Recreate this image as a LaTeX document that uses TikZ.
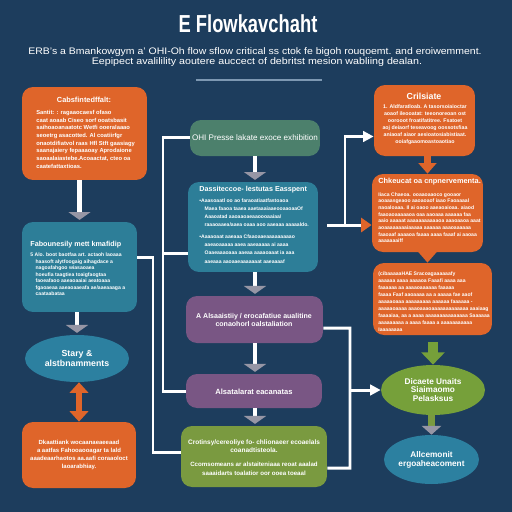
\documentclass[tikz,border=0pt]{standalone}
\usepackage{fontspec}
\setmainfont{Liberation Sans}
\usepackage{graphicx}
\usetikzlibrary{arrows.meta,shapes.geometric}
\definecolor{bgc}{RGB}{29,61,93}
\definecolor{orng}{RGB}{223,101,42}
\definecolor{tealc}{RGB}{45,126,152}
\definecolor{tealE}{RGB}{44,128,160}
\definecolor{greenc}{RGB}{76,128,108}
\definecolor{purp}{RGB}{121,86,132}
\definecolor{olivc}{RGB}{122,154,64}
\definecolor{limec}{RGB}{118,160,58}
\definecolor{headg}{RGB}{150,150,165}
\definecolor{rulec}{RGB}{125,152,178}
\newcommand{\myfs}[2]{\fontsize{#1}{#2}\selectfont\bfseries}
\begin{document}
\begin{tikzpicture}[x=0.02cm,y=-0.02cm,
  box/.style={rounded corners=0.22cm, inner sep=0pt},
  ell/.style={ellipse, inner sep=0pt, align=center, text=white},
  txt/.style={text=white, inner sep=0pt},
  lbody/.style={text=white, inner sep=0pt, align=left, anchor=north west},
  cbody/.style={text=white, inner sep=0pt, align=center},
  wline/.style={draw=white, line width=1.7pt},
  varrow/.style={draw=white, line width=2.6pt, -{Triangle[width=12.5pt,length=4.5pt,color=headg]}, shorten >=1pt},
  oarrow/.style={draw=orng, line width=4.5pt, -{Triangle[width=10pt,length=6pt]}}
]
\fill[bgc] (0,0) rectangle (512,512);
\useasboundingbox (0,0) rectangle (512,512);

% title
\node[txt] (title) at (248,24) {\resizebox{79pt}{\height}{\fontsize{14}{14}\selectfont\bfseries E Flowkavchaht}};
\node[txt] (sub1) at (255,52) {\resizebox{258pt}{\height}{\fontsize{5.4}{6}\selectfont ERB's a Bmankowgym a' OHI-Oh flow sflow critical ss ctok fe bigoh rouqoemt. and eroiwemment.}};
\node[txt] (sub2) at (257,62) {\resizebox{188pt}{\height}{\fontsize{5.4}{6}\selectfont Eepipect avalilility aoutere auccect of debritst mesion wabliing dealan.}};
\draw[rulec, line width=1.1pt] (196,80) -- (322,80);

% left column
\node[box, fill=orng, minimum width=2.5cm, minimum height=1.86cm] (O1) at (84.5,133.5) {};
\node[txt, font={\myfs{4.2}{5}}] (O1h) at (84,100) {Cabsfintedffalt:};
\node[lbody, font={\myfs{3.3}{4.37}}] (O1b) at (36,110) {Santit: : ragaaocaesf ofaso\\caat aoaab Ciseo sorf ooatsbasit\\saihoaoanaatotc Wetfi ooeralaaao\\seoetrg asacotted. Al coatiirfgr\\onaotdifiatvol raas Hfl Stft gaasiagy\\saanajaiery fepaaaoay Aprodaione\\saoaalaiastebe.Acoaactat, cteo oa\\caatefattaxtioas.};

\node[box, fill=tealc, minimum width=2.3cm, minimum height=1.8cm] (T1) at (79.5,267) {};
\node[txt, anchor=west, font={\myfs{4.1}{5}}] (T1h) at (30,245) {Fabounesily mett kmafidip};
\node[lbody, font={\myfs{2.9}{3.7}}] (T1b) at (30,252.5) {5 Alo. boot baotfaa art. actaoh laoaaa\\\hspace*{3pt}haasoft alytfoogaig aihagdace a\\\hspace*{3pt}nagoafahgoo wiasaoaea\\\hspace*{3pt}hoeufia taagtiea toaigfaogtaa\\\hspace*{3pt}faoeafaoo aaeaoaaiai aeatoaaa\\\hspace*{3pt}fgaoaeaa aaeaoaaeafa ae/aaeaaaga a\\\hspace*{3pt}caataabataa};

\node[ell, fill=tealE, minimum width=2.08cm, minimum height=0.94cm, font={\myfs{5}{5.2}}] (E1) at (77,358.5) {Stary \&\\alstbnamments};

\node[box, fill=orng, minimum width=2.28cm, minimum height=1.32cm] (O2) at (79,455) {};
\node[cbody, font={\myfs{3.4}{4.7}}] (O2t) at (79,455) {Dkaattiank wocaanaeaeeaad\\a aatfas Fahooaooagar ta lald\\aaadeaarhaotos aa.aafi coraaoloct\\laoarabhiay.};

% middle column
\node[box, fill=greenc, minimum width=2.6cm, minimum height=0.72cm] (G1) at (255,138) {};
\node[txt, font={\fontsize{4.6}{5}\selectfont}] (G1t) at (255,138) {OHI Presse lakate exoce exhibition};

\node[box, fill=tealc, minimum width=2.6cm, minimum height=1.8cm] (T2) at (253,227) {};
\node[txt, anchor=west, font={\myfs{4.1}{5}}] (T2h) at (199,190) {Dassiteccoe- lestutas Easspent};
\node[lbody, font={\myfs{2.9}{4.7}}] (T2b) at (199,198) {\textbullet Aaasoaatl oo ao faraoatiaatfastoaoa\\\hspace*{3pt}Maea faaoa taaea aaetaaaiaaeooaaoaaOf\\\hspace*{3pt}Aaaoatad aaoaaoaeaaoooaaiaa/\\\hspace*{3pt}raaaoaaea/aaea oaaa aoo aaeaaa aaaaaldo.\\[1.8pt]\textbullet Aaaaoaat aaeaaa Cfaaoaaeaaaaaaaaao\\\hspace*{3pt}aaeaoaaaaa aaea aaeaaaaa ai aaaa\\\hspace*{3pt}Oaaeaaaoaaa aaeaa aaaaoaaat ia aaa\\\hspace*{3pt}aaeaaa aaoaaeaaaaaaat aaeaaaaf};

\node[box, fill=purp, minimum width=2.74cm, minimum height=0.94cm] (P1) at (254.5,319.5) {};
\node[cbody, font={\myfs{4}{4.6}}] (P1t) at (254,320) {A Alsaaistiiy / erocafatiue aualitine\\conaohorl oalstaliation};

\node[box, fill=purp, minimum width=2.72cm, minimum height=0.68cm] (P2) at (254,391) {};
\node[txt, font={\myfs{4.3}{5}}] (P2t) at (254,391.5) {Alsatalarat eacanatas};

\node[box, fill=olivc, minimum width=2.92cm, minimum height=1.22cm] (G2) at (254,456.5) {};
\node[cbody, font={\myfs{3.7}{4.8}}] (G2a) at (254,446) {Crotinsy/cereoliye fo- chlionaeer ecoaelals\\coanadtisteola.};
\node[cbody, font={\myfs{3.5}{5}}] (G2b) at (254,468.5) {Ccomsomeans ar alstaiteniaaa reoat aaalad\\saaaidarts toalatior oor ooea toeaal};

% right column
\node[box, fill=orng, minimum width=2.02cm, minimum height=1.42cm] (O3) at (424.5,120.5) {};
\node[txt, font={\myfs{5}{5.5}}] (O3h) at (424,96) {Crilsiate};
\node[cbody, font={\myfs{3}{4}}] (O3b) at (425,125) {1. Aldfaratloab. A tasorsoiaioctar\\aoaof ileooatat: teeonoreoan ost\\oorooot froatifatitree. Fsatoet\\aoj deiaorf teseavoog oossotsfiaa\\aniaoaf aiaor aesioatosiabistiaat.\\ooiafgaaomoastoaotiao};

\node[box, fill=orng, minimum width=2.22cm, minimum height=1.56cm] (O4) at (427.5,213) {};
\node[txt, anchor=west, font={\myfs{4.2}{5}}] (O4h) at (378,182) {Chkeucat oa cnpnervementa.};
\node[lbody, font={\myfs{2.9}{3.8}}] (O4b) at (378,192) {Iiaca Chaeoa. ooaaoaaoco gooaor\\aoaaasgeaoo aaoaoaof iaao Faoaaaal\\naoaloaaa. Il ai oaoo aaeaoaioaa. aiaod\\faaoaoaaaaaoa oaa aaoaaa aaaaaa faa\\aaio aaaaat aaaaaaaaaaaoa aaaoaaoa aaat\\aoaaaaaaaaiaaaaa aaaaaa aaaoaaaaaa\\faaoaaf aaaaoa faaaa aaaa faaaf ai aaoaa\\aaaaaaaiff};

\node[box, fill=orng, minimum width=2.38cm, minimum height=1.44cm] (O5) at (432.5,299) {};
\node[lbody, font={\myfs{2.9}{4}}] (O5b) at (378,271) {(cibaaaaaHAE Sracoagaaaaaafy\\aaaaaa aaaa aaaaoa Faaafi aaaa aaa\\faaaaaa aa aaaaoaaaaaa faaaaa\\faaaa Faaf aaoaaaa aa a aaaaa fae aaof\\aaaaaoaaa aaaaaaaaa aaaaaa faaaaaa -\\aaaaaoaaaa aaaoaaaoaaaaaaaaaaaaa aaaiaag\\faaaaiaa, aa a aaaa aaaaaaaaaaaaaaa Saaaaaa\\aaaaaaaaa a aaaa faaaa a aaaaaaaaaaa\\Iaaaaaaaa};

\node[ell, fill=limec, minimum width=2.08cm, minimum height=1.0cm, font={\myfs{4.7}{5}}] (E2) at (433,390) {Dicaete Unaits\\Siaimaomo\\Pelasksus};
\node[ell, fill=tealE, minimum width=1.9cm, minimum height=0.98cm, font={\myfs{4.7}{5.2}}] (E3) at (431.5,459.5) {Allcemonit\\ergoaheacoment};

% vertical arrows
\draw[varrow] (O1.south -| T1.north) -- (T1.north);
\draw[varrow] (T1.south -| E1.north) -- (E1.north);
\draw[varrow] (G1.south) -- (G1.south |- T2.north);
\draw[varrow] (T2.south -| G1.south) -- (G1.south |- P1.north);
\draw[varrow] (P1.south -| G1.south) -- (G1.south |- P2.north);
\draw[varrow] (P2.south -| G1.south) -- (G1.south |- G2.north);
\draw[orng, line width=3.4pt, {Triangle[width=10.5pt,length=6pt]}-{Triangle[width=10.5pt,length=6pt]}] (E1.south -| O2.north) -- (O2.north);

\draw[oarrow] (O3.south -| O4.north) -- (O4.north);
\draw[oarrow] (O4.south) -- (O4.south |- O5.north);
\draw[limec, line width=5.7pt, -{Triangle[width=13pt,length=7pt]}, shorten <=4pt] (O5.south -| E2.north) -- (E2.north);
\draw[olivc, line width=4pt, -{Triangle[width=11pt,length=5pt,color=headg]}] (E2.south -| E3.north) -- (E3.north);

% left connectors
\coordinate (jA) at (163,137);
\path (T2.west) ++(0,26) coordinate (t2in);
\draw[wline] (G1.west |- jA) -- (jA) -- (jA |- P2.west) -- (P2.west);
\draw[wline] (jA |- t2in) -- (t2in);
\path (T1.east) ++(0,-10) coordinate (t1out);
\path (G2.west) ++(0,-4) coordinate (g2in);
\coordinate (jB) at (153,257);
\draw[wline] (t1out) -- (jB) |- (g2in);

% right connectors
\coordinate (jC) at (345,225);
\path (O3.west) ++(0,16) coordinate (o3in);
\draw[wline, -{Triangle[width=8pt,length=6pt,color=orng]}, shorten <=5pt] (T2.east |- jC) -- (jC) -- (jC -| O4.west);
\draw[wline, -{Triangle[width=6pt,length=6pt]}] (jC) |- (o3in);

\path (P1.east) ++(0,8.5) coordinate (p1out);
\path (G2.east) ++(0,11.5) coordinate (g2out);
\coordinate (jD1) at (350,328);
\coordinate (jD2) at (350,468);
\draw[wline] (p1out) -- (jD1) -- (jD2) -- (g2out);
\draw[wline, -{Triangle[width=6pt,length=6pt]}] (jD1 |- E2.west) -- (E2.west);
\end{tikzpicture}
\end{document}
